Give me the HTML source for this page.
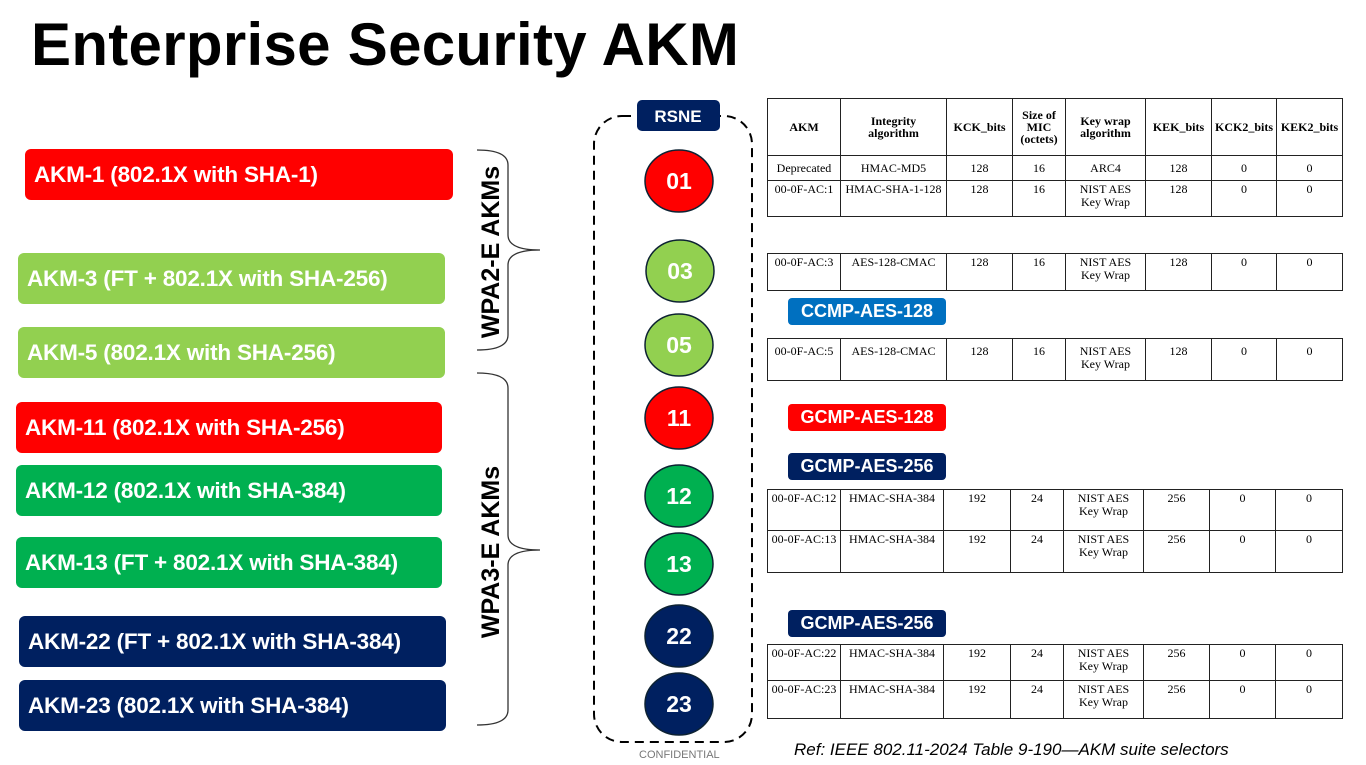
<!DOCTYPE html>
<html><head><meta charset="utf-8"><style>
body{margin:0;width:1366px;height:765px;background:#fff;position:relative;overflow:hidden;font-family:"Liberation Sans",sans-serif}
.a{position:absolute}
.bar{position:absolute;border-radius:6px;color:#fff;font-weight:bold;font-size:22.5px;line-height:51px;padding-left:9px;box-sizing:border-box;height:51px;letter-spacing:-0.2px}
.pill{position:absolute;left:788px;width:158px;height:27px;border-radius:4px;color:#fff;font-weight:bold;font-size:18px;text-align:center;line-height:27px}
table{position:absolute;left:767px;border-collapse:collapse;font-family:"Liberation Serif",serif;font-size:12px;table-layout:fixed;width:575px}
td{border:1.3px solid #222;text-align:center;vertical-align:top;padding:2px 1px;line-height:13px}
th{border:1.3px solid #222;font-weight:bold;font-size:12px;line-height:12px}
</style></head><body>
<div class="a" style="left:31px;top:10px;font-size:60px;font-weight:bold;color:#000;letter-spacing:0.3px">Enterprise Security AKM</div>

<div class="bar" style="left:25px;top:149px;width:428px;background:#ff0000">AKM-1 (802.1X with SHA-1)</div>
<div class="bar" style="left:18px;top:253px;width:427px;background:#92d050">AKM-3 (FT + 802.1X with SHA-256)</div>
<div class="bar" style="left:18px;top:327px;width:427px;background:#92d050">AKM-5 (802.1X with SHA-256)</div>
<div class="bar" style="left:16px;top:402px;width:426px;background:#ff0000">AKM-11 (802.1X with SHA-256)</div>
<div class="bar" style="left:16px;top:465px;width:426px;background:#00b050">AKM-12 (802.1X with SHA-384)</div>
<div class="bar" style="left:16px;top:537px;width:426px;background:#00b050">AKM-13 (FT + 802.1X with SHA-384)</div>
<div class="bar" style="left:19px;top:616px;width:427px;background:#002060">AKM-22 (FT + 802.1X with SHA-384)</div>
<div class="bar" style="left:19px;top:680px;width:427px;background:#002060">AKM-23 (802.1X with SHA-384)</div>

<svg class="a" style="left:0;top:0" width="1366" height="765">
<path d="M477 150 Q508 150 508 165 L508 235 Q508 250 540 250 Q508 250 508 265 L508 335 Q508 350 477 350" fill="none" stroke="#333" stroke-width="1.3"/>
<path d="M477 373 Q508 373 508 388 L508 535 Q508 550 540 550 Q508 550 508 565 L508 710 Q508 725 477 725" fill="none" stroke="#333" stroke-width="1.3"/>
<text transform="translate(499,252) rotate(-90)" text-anchor="middle" font-family="Liberation Sans" font-weight="bold" font-size="25">WPA2-E AKMs</text>
<text transform="translate(499,552) rotate(-90)" text-anchor="middle" font-family="Liberation Sans" font-weight="bold" font-size="25">WPA3-E AKMs</text>
<rect x="594" y="116" width="158" height="626" rx="28" fill="none" stroke="#000" stroke-width="2" stroke-dasharray="9,6"/>
<rect x="637" y="100" width="83" height="31" rx="5" fill="#002060"/>
<text x="678" y="122" text-anchor="middle" fill="#fff" font-family="Liberation Sans" font-weight="bold" font-size="17">RSNE</text>
<g stroke="#0d2233" stroke-width="1.5">
<ellipse cx="679" cy="181" rx="34" ry="31" fill="#ff0000"/>
<ellipse cx="680" cy="271" rx="34" ry="31" fill="#92d050"/>
<ellipse cx="679" cy="345" rx="34" ry="31" fill="#92d050"/>
<ellipse cx="679" cy="418" rx="34" ry="31" fill="#ff0000"/>
<ellipse cx="679" cy="496" rx="34" ry="31" fill="#00b050"/>
<ellipse cx="679" cy="564" rx="34" ry="31" fill="#00b050"/>
<ellipse cx="679" cy="636" rx="34" ry="31" fill="#002060"/>
<ellipse cx="679" cy="704" rx="34" ry="31" fill="#002060"/>
</g>
<g fill="#fff" font-family="Liberation Sans" font-weight="bold" font-size="23" text-anchor="middle">
<text x="679" y="189">01</text><text x="680" y="279">03</text><text x="679" y="353">05</text><text x="679" y="426">11</text>
<text x="679" y="504">12</text><text x="679" y="572">13</text><text x="679" y="644">22</text><text x="679" y="712">23</text>
</g>
</svg>

<table style="top:98px">
<colgroup><col style="width:73px"><col style="width:106px"><col style="width:66px"><col style="width:53px"><col style="width:80px"><col style="width:66px"><col style="width:65px"><col style="width:66px"></colgroup>
<tr style="height:57px"><th>AKM</th><th>Integrity<br>algorithm</th><th>KCK_bits</th><th>Size of<br>MIC<br>(octets)</th><th>Key wrap<br>algorithm</th><th>KEK_bits</th><th>KCK2_bits</th><th>KEK2_bits</th></tr>
<tr style="height:25px"><td style="vertical-align:middle">Deprecated</td><td style="vertical-align:middle">HMAC-MD5</td><td style="vertical-align:middle">128</td><td style="vertical-align:middle">16</td><td style="vertical-align:middle">ARC4</td><td style="vertical-align:middle">128</td><td style="vertical-align:middle">0</td><td style="vertical-align:middle">0</td></tr>
<tr style="height:36px"><td>00-0F-AC:1</td><td>HMAC-SHA-1-128</td><td>128</td><td>16</td><td>NIST AES<br>Key Wrap</td><td>128</td><td>0</td><td>0</td></tr>
</table>

<table style="top:253px">
<colgroup><col style="width:73px"><col style="width:106px"><col style="width:66px"><col style="width:53px"><col style="width:80px"><col style="width:66px"><col style="width:65px"><col style="width:66px"></colgroup>
<tr style="height:37px"><td>00-0F-AC:3</td><td>AES-128-CMAC</td><td>128</td><td>16</td><td>NIST AES<br>Key Wrap</td><td>128</td><td>0</td><td>0</td></tr>
</table>

<div class="pill" style="top:298px;background:#0070c0">CCMP-AES-128</div>

<table style="top:338px">
<colgroup><col style="width:73px"><col style="width:106px"><col style="width:66px"><col style="width:53px"><col style="width:80px"><col style="width:66px"><col style="width:65px"><col style="width:66px"></colgroup>
<tr style="height:42px"><td style="padding-top:6px">00-0F-AC:5</td><td style="padding-top:6px">AES-128-CMAC</td><td style="padding-top:6px">128</td><td style="padding-top:6px">16</td><td style="padding-top:6px">NIST AES<br>Key Wrap</td><td style="padding-top:6px">128</td><td style="padding-top:6px">0</td><td style="padding-top:6px">0</td></tr>
</table>

<div class="pill" style="top:404px;background:#ff0000">GCMP-AES-128</div>
<div class="pill" style="top:453px;background:#002060">GCMP-AES-256</div>

<table style="top:489px">
<colgroup><col style="width:73px"><col style="width:103px"><col style="width:67px"><col style="width:53px"><col style="width:80px"><col style="width:66px"><col style="width:66px"><col style="width:67px"></colgroup>
<tr style="height:41px"><td>00-0F-AC:12</td><td>HMAC-SHA-384</td><td>192</td><td>24</td><td>NIST AES<br>Key Wrap</td><td>256</td><td>0</td><td>0</td></tr>
<tr style="height:42px"><td>00-0F-AC:13</td><td>HMAC-SHA-384</td><td>192</td><td>24</td><td>NIST AES<br>Key Wrap</td><td>256</td><td>0</td><td>0</td></tr>
</table>

<div class="pill" style="top:610px;background:#002060">GCMP-AES-256</div>

<table style="top:644px">
<colgroup><col style="width:73px"><col style="width:103px"><col style="width:67px"><col style="width:53px"><col style="width:80px"><col style="width:66px"><col style="width:66px"><col style="width:67px"></colgroup>
<tr style="height:36px"><td>00-0F-AC:22</td><td>HMAC-SHA-384</td><td>192</td><td>24</td><td>NIST AES<br>Key Wrap</td><td>256</td><td>0</td><td>0</td></tr>
<tr style="height:38px"><td>00-0F-AC:23</td><td>HMAC-SHA-384</td><td>192</td><td>24</td><td>NIST AES<br>Key Wrap</td><td>256</td><td>0</td><td>0</td></tr>
</table>

<div class="a" style="left:794px;top:740px;font-size:17px;font-style:italic;color:#000">Ref: IEEE 802.11-2024 Table 9-190—AKM suite selectors</div>
<div class="a" style="left:639px;top:749px;font-size:11px;color:#777">CONFIDENTIAL</div>
</body></html>
